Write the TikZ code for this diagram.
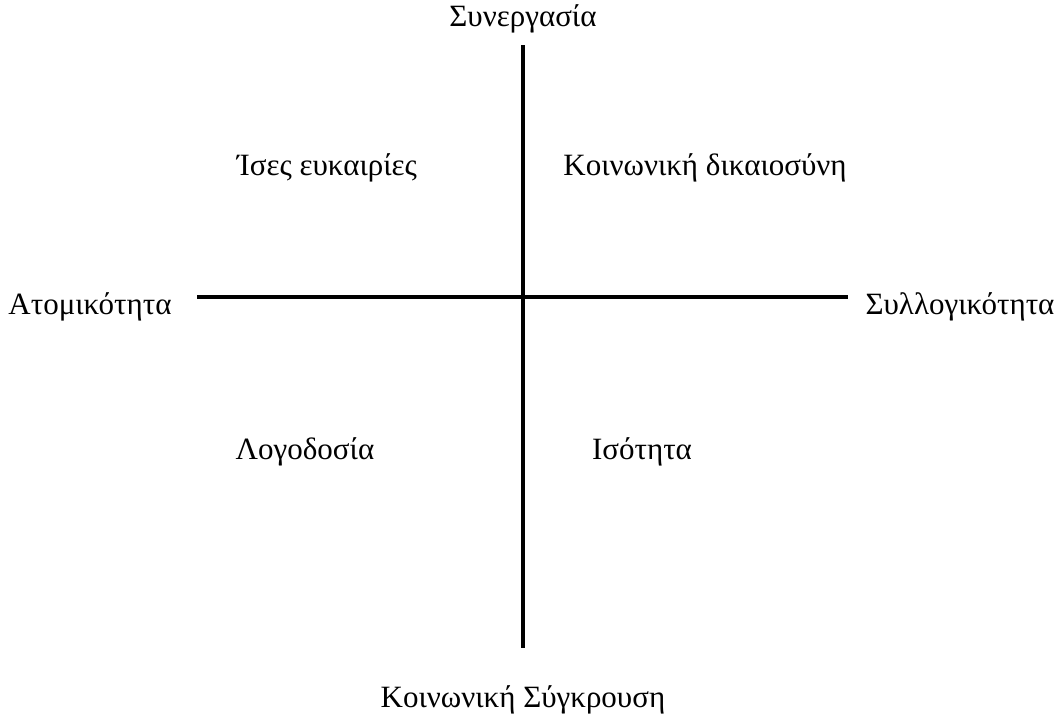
\documentclass[tikz,border=0pt]{standalone}
\usepackage{fontspec}
\setmainfont{Liberation Serif}
\usetikzlibrary{positioning}

\begin{document}
\begin{tikzpicture}[x=1pt, y=-1pt, font=\fontsize{31}{36}\selectfont,
  lab/.style={inner sep=0pt, anchor=base},
  axis/.style={line width=4pt}]
\useasboundingbox (0,0) rectangle (1062,720);
\coordinate (top) at (523,45);
\coordinate (bot) at (523,648);
\coordinate (lft) at (197,297);
\coordinate (rgt) at (848,297);
\draw[axis] (top) -- (bot);
\draw[axis] (lft) -- (rgt);
\node[lab] (syn) at (523,26) {Συνεργασία};
\node[lab] (syg) at (523,707) {Κοινωνική Σύγκρουση};
\node[lab] (ato) at (90,314) {Ατομικότητα};
\node[lab] (syl) at (960,314) {Συλλογικότητα};
\node[lab] (ise) at (327,175) {Ίσες ευκαιρίες};
\node[lab] (koi) at (705,175) {Κοινωνική δικαιοσύνη};
\node[lab] (log) at (305,459) {Λογοδοσία};
\node[lab] (iso) at (642,459) {Ισότητα};
\end{tikzpicture}
\end{document}
